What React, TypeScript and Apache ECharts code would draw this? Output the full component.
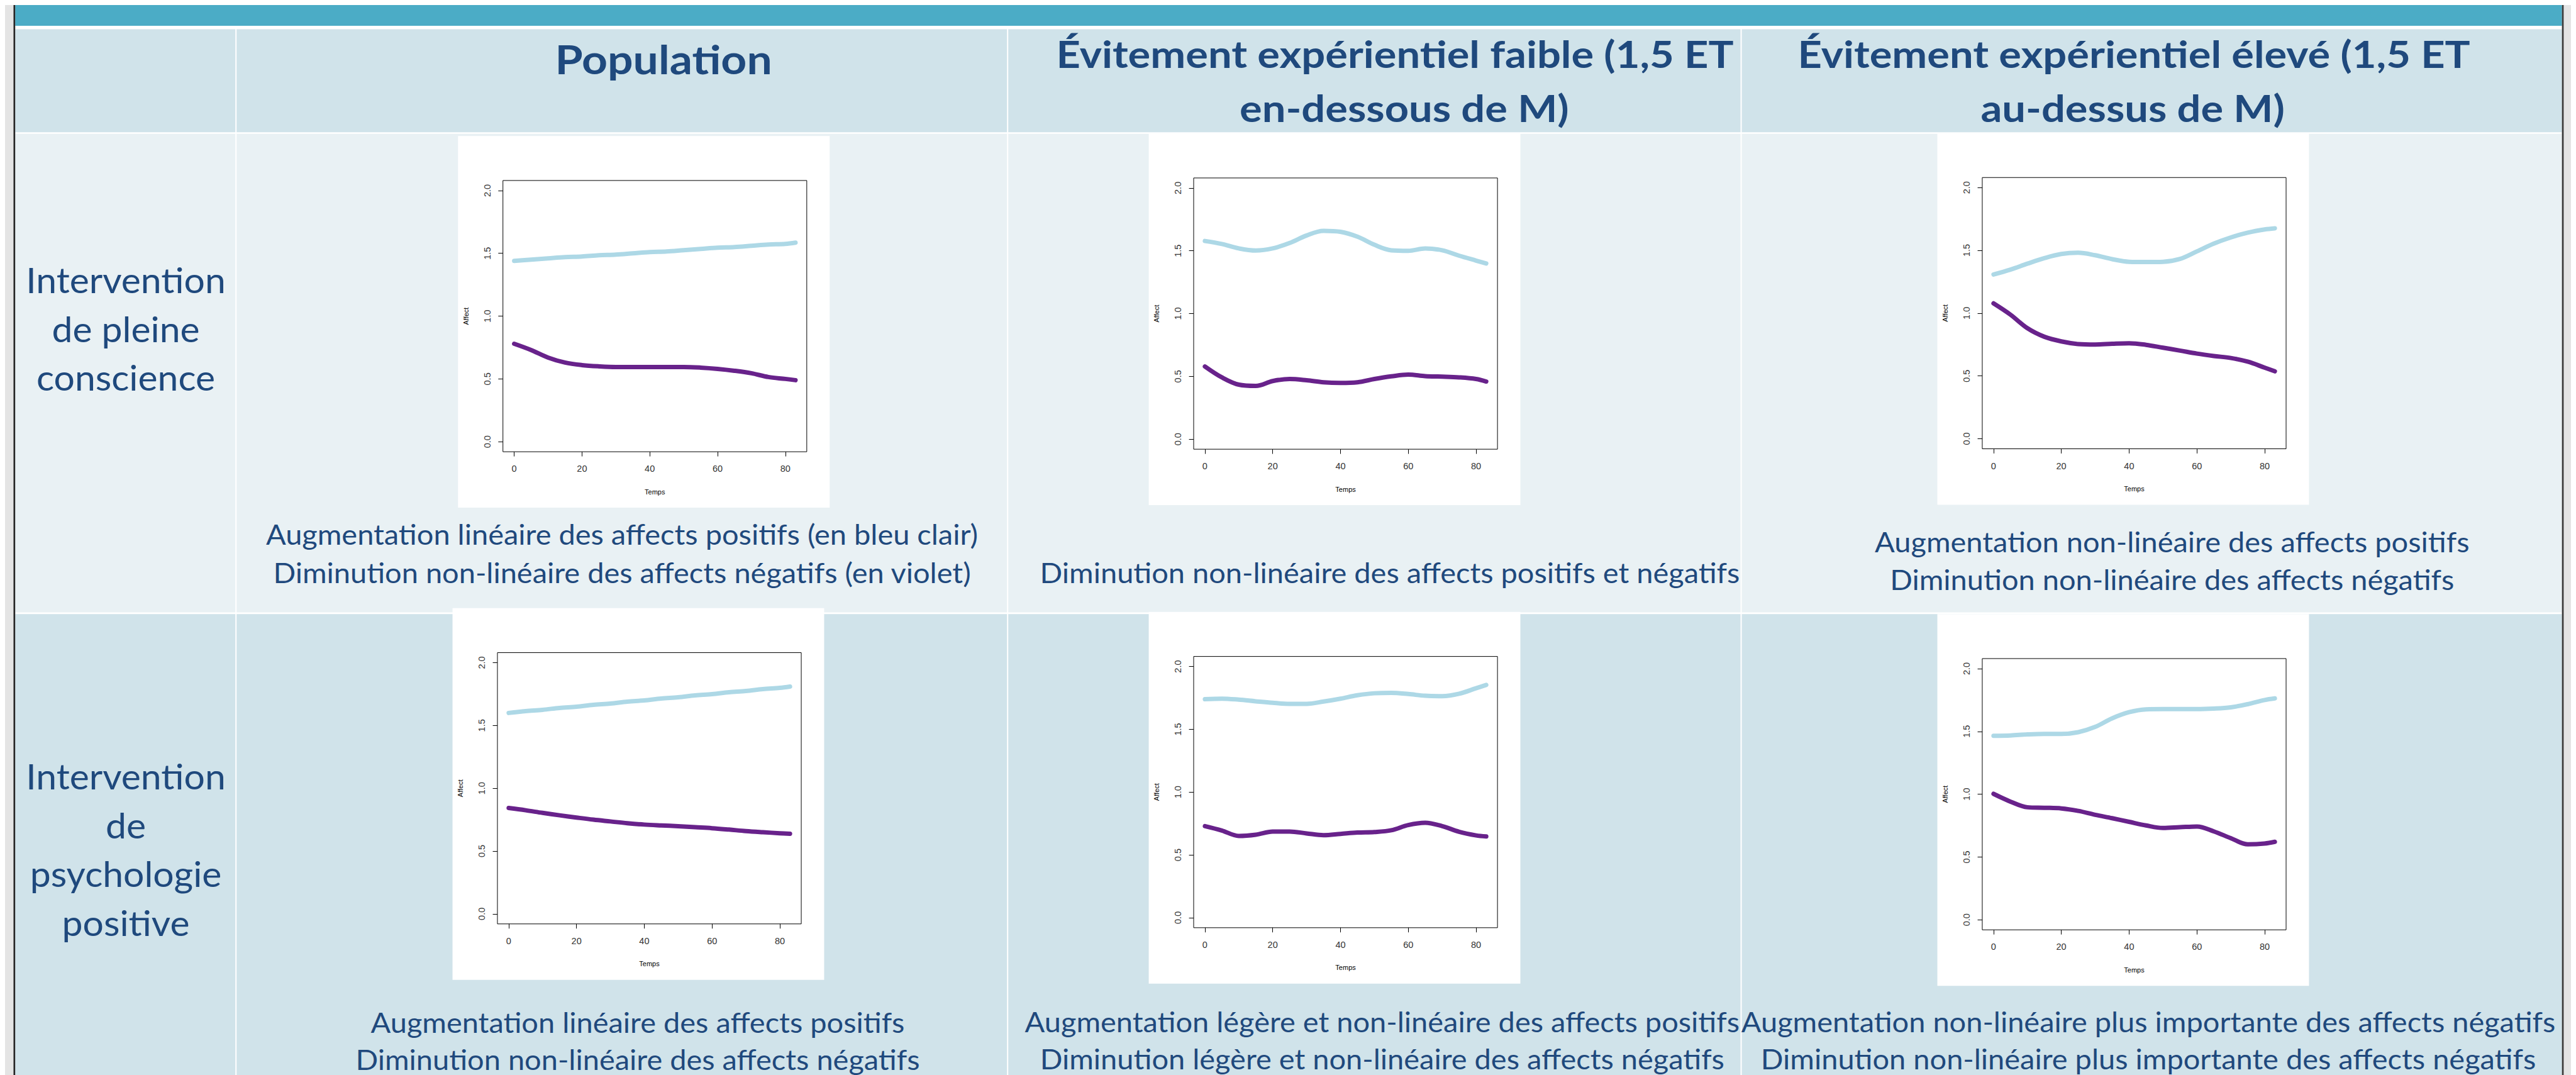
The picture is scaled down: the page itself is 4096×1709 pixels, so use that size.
import React, { useEffect, useRef } from "react";
import * as echarts from "echarts";

const W = 4096;
const H = 1709;
const S = W / 6079; // reference -> window

// ---------- DATA ----------
const X_TEMPS = [0, 5, 10, 15, 20, 25, 30, 35, 40, 45, 50, 55, 60, 65, 70, 75, 80, 83];
const X_TICKS = [0, 20, 40, 60, 80];
const Y_TICKS = [0, 0.5, 1, 1.5, 2];

// Intervention de pleine conscience
const mindPopPos = [1.44, 1.45, 1.46, 1.47, 1.475, 1.485, 1.49, 1.5, 1.51, 1.515, 1.525, 1.535, 1.545, 1.55, 1.56, 1.57, 1.575, 1.585];
const mindPopNeg = [0.78, 0.73, 0.67, 0.63, 0.61, 0.6, 0.595, 0.595, 0.595, 0.595, 0.595, 0.59, 0.58, 0.565, 0.545, 0.515, 0.5, 0.49];
const mindLowPos = [1.578, 1.554, 1.519, 1.502, 1.519, 1.562, 1.622, 1.659, 1.651, 1.612, 1.548, 1.504, 1.5, 1.519, 1.504, 1.461, 1.422, 1.399];
const mindLowNeg = [0.579, 0.492, 0.434, 0.424, 0.463, 0.479, 0.469, 0.453, 0.448, 0.453, 0.479, 0.5, 0.514, 0.502, 0.498, 0.492, 0.479, 0.459];
const mindHighPos = [1.308, 1.347, 1.394, 1.438, 1.471, 1.481, 1.461, 1.43, 1.409, 1.407, 1.409, 1.432, 1.492, 1.554, 1.603, 1.641, 1.667, 1.676];
const mindHighNeg = [1.078, 0.988, 0.88, 0.812, 0.775, 0.754, 0.75, 0.756, 0.76, 0.748, 0.725, 0.702, 0.678, 0.659, 0.643, 0.614, 0.566, 0.537];

// Intervention de psychologie positive
const psyPopPos = [1.6, 1.615, 1.625, 1.64, 1.65, 1.665, 1.675, 1.69, 1.7, 1.715, 1.725, 1.74, 1.75, 1.765, 1.775, 1.79, 1.8, 1.81];
const psyPopNeg = [0.843, 0.825, 0.804, 0.785, 0.767, 0.75, 0.736, 0.722, 0.711, 0.704, 0.698, 0.69, 0.682, 0.671, 0.659, 0.65, 0.642, 0.638];
const psyLowPos = [1.74, 1.744, 1.736, 1.723, 1.711, 1.703, 1.703, 1.721, 1.744, 1.771, 1.787, 1.79, 1.781, 1.767, 1.764, 1.783, 1.827, 1.853];
const psyLowNeg = [0.729, 0.694, 0.651, 0.661, 0.686, 0.686, 0.671, 0.657, 0.667, 0.678, 0.682, 0.696, 0.738, 0.756, 0.729, 0.684, 0.655, 0.647];
const psyHighPos = [1.465, 1.468, 1.476, 1.48, 1.48, 1.494, 1.536, 1.604, 1.653, 1.676, 1.678, 1.678, 1.678, 1.682, 1.692, 1.717, 1.75, 1.763];
const psyHighNeg = [1.003, 0.941, 0.896, 0.892, 0.887, 0.867, 0.836, 0.809, 0.78, 0.751, 0.731, 0.737, 0.743, 0.704, 0.65, 0.601, 0.607, 0.621];

// ---------- TEXTS ----------
const HEADER_POP = "Population";
const HEADER_LOW = ["Évitement expérientiel faible (1,5 ET", "en-dessous de M)"];
const HEADER_HIGH = ["Évitement expérientiel élevé (1,5 ET", "au-dessus de M)"];
const ROW_MIND = ["Intervention", "de pleine", "conscience"];
const ROW_PSY = ["Intervention", "de", "psychologie", "positive"];
const CAP_MIND_POP = ["Augmentation linéaire des affects positifs (en bleu clair)", "Diminution non-linéaire des affects négatifs (en violet)"];
const CAP_MIND_LOW = ["Diminution non-linéaire des affects positifs et négatifs"];
const CAP_MIND_HIGH = ["Augmentation non-linéaire des affects positifs", "Diminution non-linéaire des affects négatifs"];
const CAP_PSY_POP = ["Augmentation linéaire des affects positifs", "Diminution non-linéaire des affects négatifs"];
const CAP_PSY_LOW = ["Augmentation légère et non-linéaire des affects positifs", "Diminution légère et non-linéaire des affects négatifs"];
const CAP_PSY_HIGH = ["Augmentation non-linéaire plus importante des affects négatifs", "Diminution non-linéaire plus importante des affects négatifs"];

// ---------- STYLE ----------
const C_TEAL = "#4BACC6";
const C_DARK_ROW = "#D0E3EA";
const C_LIGHT_ROW = "#E9F1F4";
const C_TEXT = "#1F497D";
const C_POS = "#ADD8E6";
const C_NEG = "#68228B";
const FONT = "Lato";
const PLOT_FONT = "Liberation Sans";

function textWidth(text: string, font: string): number {
  const c = document.createElement("canvas").getContext("2d");
  if (!c) return text.length * 10;
  c.font = font;
  return c.measureText(text).width;
}

function buildOption() {
  const r = (v: number) => v * S;

  // chart image positions (reference px, top-left of white picture)
  const charts = [
    { ix: 1069, iy: 309, pos: mindPopPos, neg: mindPopNeg },
    { ix: 2699, iy: 303, pos: mindLowPos, neg: mindLowNeg },
    { ix: 4560, iy: 302, pos: mindHighPos, neg: mindHighNeg },
    { ix: 1056, iy: 1423, pos: psyPopPos, neg: psyPopNeg },
    { ix: 2699, iy: 1432, pos: psyLowPos, neg: psyLowNeg },
    { ix: 4560, iy: 1437, pos: psyHighPos, neg: psyHighNeg },
  ];
  const IMG = 877;

  // font sizes (reference px)
  const hdrSize = r(87);
  const popSize = r(93);
  const rowSize = r(84);
  const capSize = r(67);

  const hdrScale = r(1599) / textWidth(HEADER_LOW[0], `bold ${hdrSize}px ${FONT}`);
  const rowScale = r(471) / textWidth(ROW_MIND[0], `${rowSize}px ${FONT}`);
  const capScale = r(1680) / textWidth(CAP_MIND_POP[0], `${capSize}px ${FONT}`);

  const graphic: any[] = [];
  const rect = (x0: number, y0: number, x1: number, y1: number, fill: string, z: number) =>
    graphic.push({
      type: "rect",
      z,
      silent: true,
      shape: { x: r(x0), y: r(y0), width: r(x1 - x0), height: r(y1 - y0) },
      style: { fill },
    });

  // page & table backgrounds
  rect(0, 0, 6079, 2536, "#E4E4E4", -30);
  rect(24, 0, 6034, 2536, "#FFFFFF", -29);
  rect(24, 0, 6034, 49, C_TEAL, -28);
  rect(24, 57, 6034, 300, C_DARK_ROW, -28);
  rect(24, 304, 6034, 1433, C_LIGHT_ROW, -28);
  rect(24, 1437, 6034, 2536, C_DARK_ROW, -28);
  // column separators
  [545, 2366, 4097].forEach((cx) => rect(cx - 1.5, 49, cx + 1.5, 2536, "#FFFFFF", -27));
  // outer dark lines
  rect(20, 0, 24, 2536, "#262626", -26);
  rect(6034, 0, 6038, 2536, "#3A3A3A", -26);
  // white chart pictures
  charts.forEach((c) => rect(c.ix, c.iy, c.ix + IMG, c.iy + IMG, "#FFFFFF", -20));

  const txt = (
    t: string,
    cx: number,
    baseline: number,
    size: number,
    scale: number,
    bold: boolean
  ) =>
    graphic.push({
      type: "text",
      z: 50,
      silent: true,
      x: r(cx),
      y: r(baseline) - 0.52 * size,
      scaleX: scale,
      style: {
        text: t,
        x: 0,
        y: 0,
        fill: C_TEXT,
        fontFamily: FONT,
        fontSize: size,
        fontWeight: bold ? "bold" : "normal",
        align: "center",
        verticalAlign: "middle",
        textAlign: "center",
        textVerticalAlign: "middle",
      },
    });

  // headers
  txt(HEADER_POP, 1554, 176, popSize, hdrScale, true);
  txt(HEADER_LOW[0], 3280, 160, hdrSize, hdrScale, true);
  txt(HEADER_LOW[1], 3302, 287, hdrSize, hdrScale, true);
  txt(HEADER_HIGH[0], 5024, 160, hdrSize, hdrScale, true);
  txt(HEADER_HIGH[1], 5021, 287, hdrSize, hdrScale, true);

  // row labels
  const rowMindBase = [691, 806, 921];
  ROW_MIND.forEach((t, i) => txt(t, 285, rowMindBase[i], rowSize, rowScale, false));
  const rowPsyBase = [1862, 1977, 2092, 2208];
  ROW_PSY.forEach((t, i) => txt(t, 285, rowPsyBase[i], rowSize, rowScale, false));

  // captions
  const caps: [string[], number, number[]][] = [
    [CAP_MIND_POP, 1456, [1283, 1373]],
    [CAP_MIND_LOW, 3268, [1374]],
    [CAP_MIND_HIGH, 5114, [1300, 1390]],
    [CAP_PSY_POP, 1493, [2434, 2522]],
    [CAP_PSY_LOW, 3250, [2433, 2521]],
    [CAP_PSY_HIGH, 5058, [2433, 2521]],
  ];
  caps.forEach(([lines, cx, bases]) =>
    lines.forEach((t, i) => txt(t, cx, bases[i], capSize, capScale, false))
  );

  const grid: any[] = [];
  const xAxis: any[] = [];
  const yAxis: any[] = [];
  const series: any[] = [];

  charts.forEach((c, i) => {
    grid.push({
      left: r(c.ix + 106),
      top: r(c.iy + 105),
      width: r(717),
      height: r(640),
      show: true,
      borderColor: "#000",
      borderWidth: 1,
      backgroundColor: "transparent",
      containLabel: false,
    });
    xAxis.push({
      type: "value",
      gridIndex: i,
      position: "bottom",
      min: -3.32,
      max: 86.32,
      axisLine: { show: false, onZero: false },
      splitLine: { show: false },
      axisTick: {
        show: true,
        inside: false,
        length: r(11),
        customValues: X_TICKS,
        lineStyle: { color: "#000", width: 1 },
      },
      axisLabel: {
        show: true,
        customValues: X_TICKS,
        fontSize: 14.5,
        color: "#333",
        margin: r(29),
        fontFamily: PLOT_FONT,
      },
      name: "Temps",
      nameLocation: "middle",
      nameGap: r(86),
      nameTextStyle: { fontSize: 11, color: "#000", fontFamily: PLOT_FONT },
    });
    yAxis.push({
      type: "value",
      gridIndex: i,
      position: "left",
      min: -0.08,
      max: 2.08,
      axisLine: { show: false, onZero: false },
      splitLine: { show: false },
      axisTick: {
        show: true,
        inside: false,
        length: r(11),
        customValues: Y_TICKS,
        lineStyle: { color: "#000", width: 1 },
      },
      axisLabel: {
        show: true,
        customValues: Y_TICKS,
        rotate: 90,
        fontSize: 14.5,
        color: "#333",
        margin: r(26),
        fontFamily: PLOT_FONT,
        formatter: (v: number) => v.toFixed(1),
      },
      name: "Affect",
      nameLocation: "middle",
      nameRotate: 90,
      nameGap: r(79),
      nameTextStyle: { fontSize: 11, color: "#000", fontFamily: PLOT_FONT },
    });
    [
      [c.pos, C_POS],
      [c.neg, C_NEG],
    ].forEach(([vals, color]: any) => {
      series.push({
        type: "line",
        xAxisIndex: i,
        yAxisIndex: i,
        data: X_TEMPS.map((x, k) => [x, vals[k]]),
        showSymbol: false,
        smooth: 0.35,
        silent: true,
        z: 3,
        lineStyle: { width: 7, color, cap: "round", join: "round" },
      });
    });
  });

  return {
    animation: false,
    backgroundColor: "#E4E4E4",
    tooltip: { show: false },
    graphic: { elements: graphic },
    grid,
    xAxis,
    yAxis,
    series,
  };
}

export default function App() {
  const ref = useRef<HTMLDivElement>(null);
  useEffect(() => {
    if (!ref.current) return;
    const chart = echarts.init(ref.current, undefined, { renderer: "svg", width: W, height: H });
    chart.setOption(buildOption() as any);
    return () => chart.dispose();
  }, []);
  return (
    <div
      ref={ref}
      style={{ position: "fixed", left: 0, top: 0, width: W, height: H, overflow: "hidden" }}
    />
  );
}
